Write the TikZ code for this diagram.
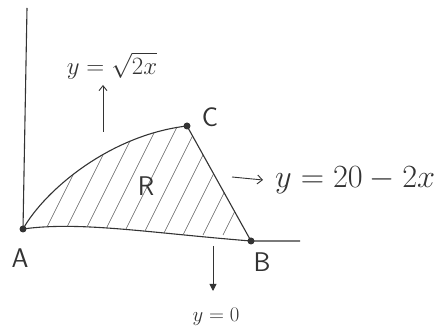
\documentclass[tikz,border=0pt]{standalone}
\usepackage{graphicx}
\usepackage{amsmath}
\usetikzlibrary{arrows.meta}
\definecolor{penink}{HTML}{333333}

\begin{document}
\begin{tikzpicture}[
    x=1pt, y=1pt,
    axis/.style={penink, line width=1.1pt},
    curve/.style={penink, line width=1.1pt},
    hatch/.style={penink!80, line width=0.6pt},
    lbl/.style={penink, font=\fontsize{21}{24}\selectfont, inner sep=1pt},
    letter/.style={penink, font=\sffamily\fontsize{27}{30}\selectfont, inner sep=1pt},
    point/.style={fill=penink, circle, inner sep=0pt, minimum size=7pt},
    pointer/.style={penink, line width=0.9pt}
  ]
  \useasboundingbox (0,0) rectangle (442,331);

  % Corner points of region R
  \node[point] (A) at (23,102) {};
  \node[point] (B) at (251,90) {};
  \node[point] (C) at (187,205) {};

  % Axes
  \draw[axis] (27,323) -- (A.center);
  \draw[axis] (A.center) .. controls (80,110) and (150,98) .. (B.center) -- (300,90);

  % Hatching of R
  \begin{scope}
    \clip (A.center) .. controls (45,141) and (110,196) .. (C.center)
      -- (B.center) .. controls (150,98) and (80,110) .. (A.center);
    \foreach \x in {43,63,83,103,123,143,163,183,203,223} {
      \draw[hatch] (\x,96) -- ++(60,120);
    }
  \end{scope}

  % Boundary curves
  \draw[curve] (A.center) .. controls (45,141) and (110,196) .. (C.center);
  \draw[curve] (C.center) -- (B.center);

  % Point and region labels
  \node[letter] (lblA) at (20,73) {A};
  \node[letter] (lblB) at (262,69) {B};
  \node[letter] (lblC) at (210,214) {C};
  \node[letter] (lblR) at (146,145) {R};

  % Curve labels with pointers
  \node[lbl, font=\fontsize{25}{28}\selectfont] (topcurve) at (112,265) {$y=\sqrt{2x}$};
  \coordinate (uptail) at (103,199);
  \draw[pointer, -{Straight Barb[length=5pt, width=8pt]}] (uptail) -- (103,246);

  \node[lbl, anchor=west, font=\fontsize{25}{28}\selectfont] (slopeline) at (274,151)
    {\scalebox{1.3}{$y=20-2x$}};
  \coordinate (righttail) at (232,154);
  \draw[pointer, -{Straight Barb[length=5pt, width=9pt]}] (righttail) -- ([xshift=-11pt]slopeline.west);

  \node[lbl] (baseline) at (216,14) {$y=0$};
  \coordinate (downtail) at (213,85);
  \draw[pointer, -{Triangle[length=7pt, width=7pt]}] (downtail) -- (213,40);
\end{tikzpicture}
\end{document}
